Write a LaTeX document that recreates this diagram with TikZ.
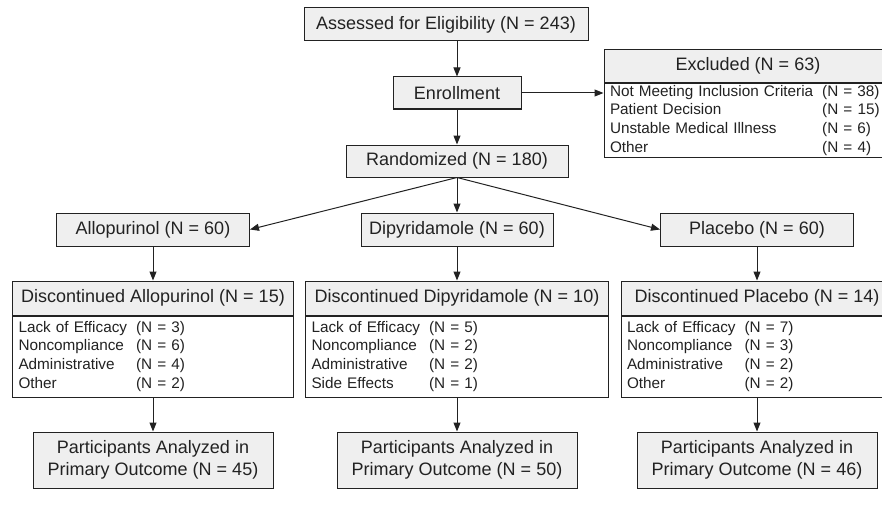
\documentclass[tikz,border=0pt]{standalone}
\usepackage{fontspec}
\setmainfont{Liberation Sans}
\usetikzlibrary{arrows.meta,positioning}
\definecolor{boxfill}{HTML}{EFEFEF}
\definecolor{inkgray}{HTML}{222222}
\tikzset{
  box/.style={draw=inkgray, fill=boxfill, line width=1pt, inner sep=0pt,
    align=center, text=inkgray, font=\fontsize{18}{22}\selectfont},
  listbox/.style={draw=inkgray, fill=white, line width=1pt, inner xsep=6pt,
    inner ysep=0pt, align=left, text=inkgray, font=\fontsize{15.3}{18.6}\selectfont},
  flow/.style={draw=inkgray, line width=1pt, -{Triangle[length=9pt,width=7pt]}}
}
\newcommand{\reasons}[1]{\begin{tabular}{@{}l@{\hspace{9pt}}l@{}}#1\end{tabular}}

\begin{document}
\begin{tikzpicture}[x=1pt,y=-1pt]
  \useasboundingbox (0,0) rectangle (882,516);
  \def \Boxes{
    assess/446/24.5/284/33/{Assessed for Eligibility (N = 243)},
    enroll/457/93/128/32/{Enrollment},
    rand/457/161/222/32/{Randomized (N = 180)},
    exclH/748/66/288/32.5/{Excluded (N = 63)},
    alloA/153/229.5/193/33/{Allopurinol (N = 60)},
    dipy/457/229.5/192/33/{Dipyridamole (N = 60)},
    plac/757/229.5/193/33/{Placebo (N = 60)},
    discAH/153/298/281/34/{Discontinued Allopurinol (N = 15)},
    discDH/457/298/303/34/{Discontinued Dipyridamole (N = 10)},
    discPH/757/298/272/34/{Discontinued Placebo (N = 14)},
    partA/153/460/240/56/{Participants Analyzed in\\Primary Outcome (N = 45)},
    partD/457/460/240/56/{Participants Analyzed in\\Primary Outcome (N = 50)},
    partP/757/460/240/56/{Participants Analyzed in\\Primary Outcome (N = 46)}}
  \foreach \id / \x / \y / \w / \h / \txt in \Boxes{
    \node[box, minimum width=\w pt, minimum height=\h pt] (\id) at (\x, \y) {\txt};
  }
  % reasons under the grey headings
  \node[listbox, text width=276pt, minimum height=73pt, below=0pt of exclH] (exclL)
    {\reasons{Not Meeting Inclusion Criteria & (N = 38)\\ Patient Decision & (N = 15)\\
      Unstable Medical Illness & (N = 6)\\ Other & (N = 4)}};
  \node[listbox, text width=269pt, minimum height=81pt, below=0pt of discAH] (discAL)
    {\reasons{Lack of Efficacy & (N = 3)\\ Noncompliance & (N = 6)\\
      Administrative & (N = 4)\\ Other & (N = 2)}};
  \node[listbox, text width=291pt, minimum height=81pt, below=0pt of discDH] (discDL)
    {\reasons{Lack of Efficacy & (N = 5)\\ Noncompliance & (N = 2)\\
      Administrative & (N = 2)\\ Side Effects & (N = 1)}};
  \node[listbox, text width=260pt, minimum height=81pt, below=0pt of discPH] (discPL)
    {\reasons{Lack of Efficacy & (N = 7)\\ Noncompliance & (N = 3)\\
      Administrative & (N = 2)\\ Other & (N = 2)}};
  \def \Edges{
    assess.south -| enroll.north/enroll.north,
    enroll.south/rand.north,
    enroll.east/enroll.east -| exclL.west,
    rand.south/alloA.east,
    rand.south/dipy.north,
    rand.south/plac.west,
    alloA.south/discAH.north,
    dipy.south/discDH.north,
    plac.south/discPH.north,
    discAL.south/partA.north,
    discDL.south/partD.north,
    discPL.south/partP.north}
  \foreach \a / \b in \Edges{
    \path[flow] (\a) -- (\b);
  }
\end{tikzpicture}
\end{document}
